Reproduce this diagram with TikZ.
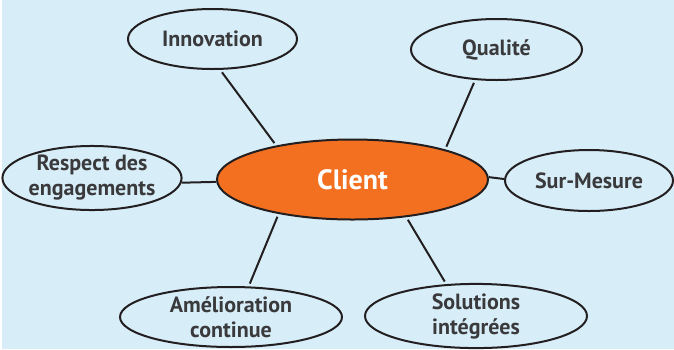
\documentclass[tikz,border=0pt]{standalone}
\usepackage{fontspec}
\setmainfont{PT Sans}
\usepackage{tikz}
\usetikzlibrary{shapes.geometric}
\definecolor{sky}{HTML}{D7EEF9}
\definecolor{tangerine}{HTML}{F37021}
\definecolor{ink}{HTML}{231F20}
\definecolor{slate}{HTML}{3A393B}

\begin{document}
\begin{tikzpicture}[x=1pt, y=-1pt]
		\tikzstyle{bubble}=[draw=ink, line width=2pt, ellipse, inner sep=0pt, minimum width=169pt, minimum height=60pt, text=slate, align=center, font=\fontsize{22}{25}\selectfont\bfseries]
		\tikzstyle{wide}=[minimum width=222pt]
		\tikzstyle{spoke}=[draw=ink, line width=2pt]
		\tikzstyle{gap}=[shorten <=3pt, shorten >=3pt]
		\useasboundingbox (0, 0) rectangle (674, 349);
		\fill[sky] (0, 0) rectangle (674, 349);
		\fill[white] (0, 0) rectangle (2, 349);
		\node[bubble, fill=tangerine, text=white, minimum width=271pt, minimum height=80pt, font=\fontsize{28}{32}\selectfont\bfseries] (client) at (352.5, 179.5) {Client};
		\node[bubble] (innov) at (212.5, 39) {Innovation};
		\node[bubble, minimum width=171pt, minimum height=61pt] (qual) at (496.5, 49.5) {Qualit\'e};
		\node[bubble, minimum width=170pt] (respect) at (92, 178) {Respect des\\engagements};
		\node[bubble, minimum width=168pt, minimum height=61pt] (surmes) at (589, 180.5) {Sur-Mesure};
		\node[bubble, wide] (amel) at (231, 317) {Am\'elioration\\continue};
		\node[bubble, wide] (sol) at (476, 316) {Solutions\\int\'egr\'ees};
		\draw[spoke] (client.156) edge[gap] (innov.-76) (client.18) edge[gap] (qual.-125)
		             (client.181) edge (respect.-3) (client.1) edge (surmes.179)
		             (client.205) edge[gap] (amel.60) (client.-35) edge[gap] (sol.133);
	\end{tikzpicture}
\end{document}
